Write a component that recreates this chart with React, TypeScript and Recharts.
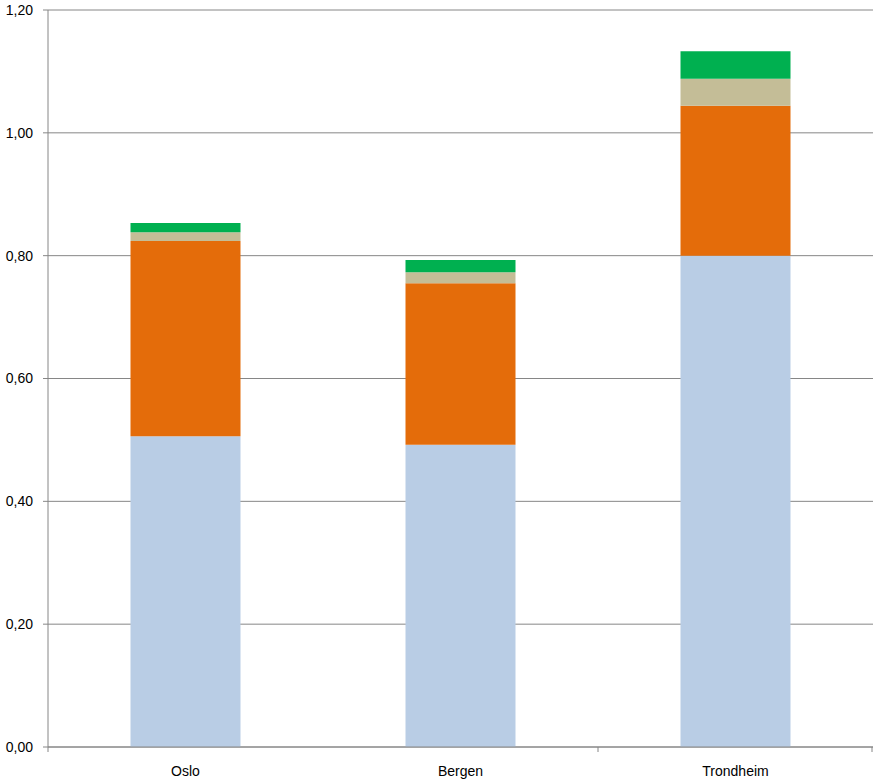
import React from 'react';
import { BarChart, Bar, XAxis, YAxis, CartesianGrid } from 'recharts';

const cities = ['Oslo', 'Bergen', 'Trondheim'];
const blueValues = [0.506, 0.492, 0.8];
const orangeValues = [0.318, 0.263, 0.244];
const tanValues = [0.014, 0.018, 0.044];
const greenValues = [0.015, 0.02, 0.045];
const yTicks = [0, 0.2, 0.4, 0.6, 0.8, 1.0, 1.2];

const data = cities.map((name, i) => ({
  name,
  blue: blueValues[i],
  orange: orangeValues[i],
  tan: tanValues[i],
  green: greenValues[i],
}));

const AXIS_GRAY = '#868686';
const FONT = '"Liberation Sans", Arial, sans-serif';
const TICK_SIZE = 5;
const TICK_MARGIN = 14;

// the original only marks the outer edges and the boundary before the last category
const CategoryTick = (props: any) => {
  const { x, y, payload, index, width, visibleTicksCount } = props;
  const band = width / visibleTicksCount;
  const axisY = y - TICK_SIZE - TICK_MARGIN;
  const left = x - band / 2;
  const right = x + band / 2;
  const last = index === visibleTicksCount - 1;
  return (
    <g>
      {(index === 0 || last) && (
        <line x1={left} y1={axisY} x2={left} y2={axisY + 5} stroke={AXIS_GRAY} />
      )}
      {last && (
        <line x1={right - 1} y1={axisY} x2={right - 1} y2={axisY + 5} stroke={AXIS_GRAY} />
      )}
      <text x={x} y={y} dy="0.71em" textAnchor="middle" fill="#000" fontSize={14} fontFamily={FONT}>
        {payload.value}
      </text>
    </g>
  );
};

export default function App() {
  return (
    <div style={{ position: 'absolute', left: 0, top: 0, width: 873, height: 779, background: '#fff' }}>
      <BarChart
        width={873}
        height={779}
        data={data}
        margin={{ top: 10, right: 0, left: 0, bottom: 2 }}
        barCategoryGap="30%"
      >
        <CartesianGrid vertical={false} stroke={AXIS_GRAY} strokeWidth={1} />
        <XAxis
          dataKey="name"
          height={30}
          stroke={AXIS_GRAY}
          tickLine={false}
          tickSize={TICK_SIZE}
          tickMargin={TICK_MARGIN}
          tick={<CategoryTick />}
          interval={0}
        />
        <YAxis
          width={48}
          domain={[0, 1.2]}
          ticks={yTicks}
          interval={0}
          stroke={AXIS_GRAY}
          tickSize={5}
          tickMargin={10}
          tickFormatter={(v: number) => v.toFixed(2).replace('.', ',')}
          tick={{ fill: '#000', fontSize: 14, fontFamily: FONT }}
        />
        <Bar dataKey="blue" stackId="a" fill="#B9CDE5" isAnimationActive={false} />
        <Bar dataKey="orange" stackId="a" fill="#E46C0A" isAnimationActive={false} />
        <Bar dataKey="tan" stackId="a" fill="#C4BD97" isAnimationActive={false} />
        <Bar dataKey="green" stackId="a" fill="#00B050" isAnimationActive={false} />
      </BarChart>
    </div>
  );
}
